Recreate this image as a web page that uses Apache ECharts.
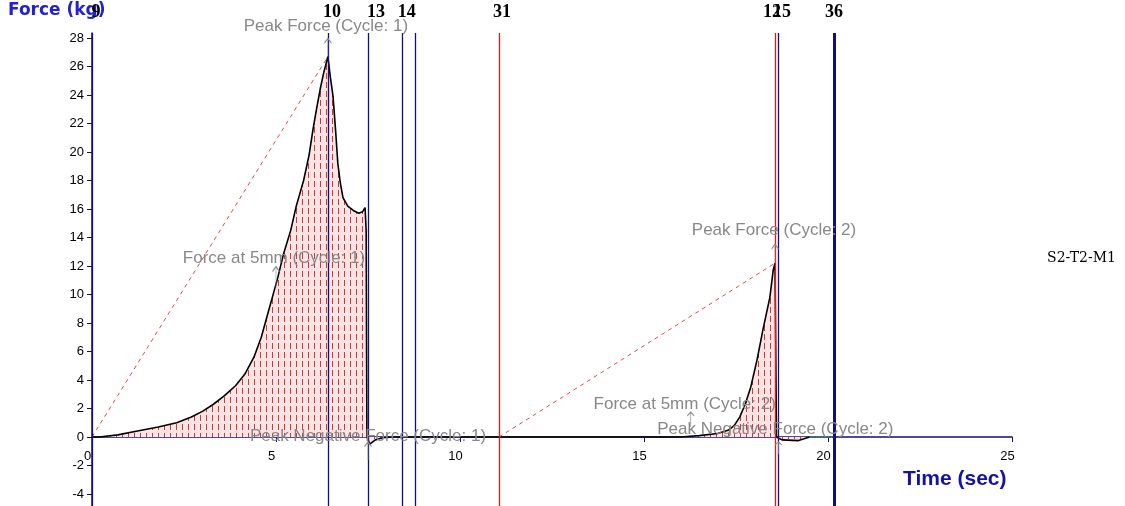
<!DOCTYPE html>
<html>
<head>
<meta charset="utf-8">
<script src="https://cdn.jsdelivr.net/npm/echarts@6/dist/echarts.min.js"></script>
<style>
  html, body { margin: 0; padding: 0; background: #fff; }
  #chart { width: 1125px; height: 506px; }
</style>
</head>
<body>
<div id="chart"></div>
<script>
// force trace [time (sec), force (kg)]
var forceTrace = [
  [0, 0], [0.2, 0], [0.7, 0.15], [1.2, 0.4], [1.8, 0.7], [2.3, 1.0], [2.7, 1.4], [3.0, 1.8],
  [3.3, 2.3], [3.6, 2.9], [3.9, 3.6], [4.15, 4.4], [4.4, 5.6], [4.6, 7.0], [4.75, 8.4],
  [4.9, 9.8], [5.05, 11.2], [5.2, 12.8], [5.4, 14.5], [5.55, 16.2], [5.75, 18.0], [5.9, 19.8],
  [6.0, 21.5], [6.1, 23.0], [6.2, 24.4], [6.3, 25.6], [6.41, 26.7], [6.48, 25.2], [6.55, 23.9],
  [6.62, 21.5], [6.68, 19.2], [6.75, 17.8], [6.82, 16.8], [6.95, 16.2], [7.1, 15.9], [7.25, 15.7],
  [7.35, 15.8], [7.42, 16.1], [7.45, 14.5], [7.47, 0], [7.55, -0.5], [7.7, -0.2], [7.9, -0.05],
  [8.2, 0], [11.06, 0], [16.0, 0], [16.5, 0.1], [17.0, 0.25], [17.3, 0.5], [17.45, 0.8],
  [17.6, 1.4], [17.75, 2.3], [17.9, 3.5], [18.07, 5.4], [18.23, 7.5], [18.42, 9.8],
  [18.51, 11.7], [18.56, 12.2], [18.6, 0], [18.75, -0.2], [19.2, -0.25], [19.5, 0]
];
// dashed lines from cycle start to peak
var chordCycle1 = [[0, 0], [6.41, 26.7]];
var chordCycle2 = [[11.06, 0], [18.56, 12.2]];
var greenTail = [[19.5, 0], [20.16, 0]];

// axis ticks
var forceTicks = [-4, -2, 0, 2, 4, 6, 8, 10, 12, 14, 16, 18, 20, 22, 24, 26, 28];
var timeTicks = [0, 5, 10, 15, 20, 25];

// vertical marker lines
var markerTimes  = [0, 6.41, 7.5, 8.42, 8.78, 11.06, 18.56, 18.64, 20.16];
var markerLabels = ['9', '10', '13', '14', '', '31', '12', '15', '36'];
var markerKinds  = ['n', 'n', 'n', 'n', 'n', 'r', 'r', 'n', 'thick'];

// annotations
var annoNames = ['Peak Force (Cycle: 1)', 'Force at 5mm (Cycle: 1)', 'Peak Negative Force (Cycle: 1)',
                 'Force at 5mm (Cycle: 2)', 'Peak Force (Cycle: 2)', 'Peak Negative Force (Cycle: 2)'];
var annoPoints = [[6.41, 26.7], [5.0, 10.5], [7.5, -0.35], [16.27, 0.7], [18.56, 12.2], [18.65, -0.35]];
var annoUp     = [true, true, false, true, true, false];

var NAVY = '#10107a';
var markerPad = {'9': 8, '10': 8, '13': 16, '14': 10, '12': -6, '15': 8, '36': 0, '31': 6};

// pink fill with short red dashes
var pat = document.createElement('canvas');
pat.width = 6; pat.height = 9;
var pc = pat.getContext('2d');
pc.fillStyle = '#fde4e4';
pc.fillRect(0, 0, 6, 9);
pc.fillStyle = '#c43c3c';
pc.fillRect(2, 1, 1, 6);

var chart = echarts.init(document.getElementById('chart'));

var arrowPath = 'path://M4,0L4,20M0,5L4,0L8,5';
var annoStyle = [
  {dx: -2, dy: 0, h: 18},
  {dx: -2, dy: 5, h: 21},
  {dx: 0, dy: 7, h: 18},
  {dx: -6, dy: 4, h: 15},
  {dx: -1, dy: -1, h: 19},
  {dx: -3, dy: -1, h: 12}
];

chart.setOption({
  animation: false,
  // y from -4.84 to 28.35 so the marker lines reach the picture edges
  grid: {left: 92, right: 113, top: 33, bottom: 0, outerBoundsMode: 'none'},
  legend: {
    right: 4, top: 246, icon: 'none', itemWidth: 0, itemGap: 0,
    data: ['S2-T2-M1'],
    textStyle: {fontFamily: 'DejaVu Serif', fontSize: 14, color: '#000'}
  },
  graphic: [
    {type: 'text', left: 8, top: 2, style: {text: 'Force (kg)', fill: '#2222d4', font: 'bold 17px "DejaVu Sans"'}},
    {type: 'text', left: 903, top: 469, style: {text: 'Time (sec)', fill: '#1212a6', font: 'bold 21px "Liberation Sans"'}}
  ],
  xAxis: {
    type: 'value', min: 0, max: 25,
    position: 'bottom', offset: -69,
    axisLine: {onZero: false, lineStyle: {color: NAVY, width: 1.5}},
    axisTick: {length: 5, lineStyle: {color: NAVY}, customValues: timeTicks},
    axisLabel: {show: true, hideOverlap: false, color: '#000', fontFamily: 'Liberation Sans', fontSize: 13, margin: 13,
                padding: [0, 9, 0, 0], customValues: timeTicks},
    splitLine: {show: false}
  },
  yAxis: {
    type: 'value', min: -4.84, max: 28.35,
    axisLine: {show: true, onZero: false, lineStyle: {color: NAVY, width: 1.5}},
    axisTick: {show: true, length: 5, lineStyle: {color: NAVY}, customValues: forceTicks},
    axisLabel: {color: '#000', fontFamily: 'Liberation Sans', fontSize: 13, margin: 8, customValues: forceTicks},
    splitLine: {show: false}
  },
  series: [
    {
      name: 'S2-T2-M1', type: 'line', data: forceTrace, showSymbol: false,
      lineStyle: {color: '#000', width: 1.6}, itemStyle: {color: '#000'},
      areaStyle: {color: {image: pat, repeat: 'repeat'}, opacity: 1, origin: 0},
      z: 3,
      markLine: {
        silent: true, symbol: ['none', 'none'], animation: false,
        label: {position: 'end', distance: 12, color: '#000', fontFamily: 'Liberation Serif', fontWeight: 'bold', fontSize: 18},
        data: markerTimes.map(function (t, i) {
          var k = markerKinds[i];
          var lab = markerLabels[i];
          var p = markerPad[lab] || 0;
          return {
            xAxis: t,
            lineStyle: {type: 'solid', color: k === 'r' ? '#e01818' : NAVY, width: k === 'thick' ? 3 : 1.3},
            label: lab ? {formatter: lab, padding: p >= 0 ? [0, 0, 0, p] : [0, -p, 0, 0]} : {show: false}
          };
        })
      },
      markPoint: {
        silent: true, animation: false,
        data: annoPoints.map(function (pt, i) {
          var s = annoStyle[i];
          return {
            coord: pt,
            symbol: arrowPath,
            symbolSize: [7, s.h],
            symbolOffset: [0, annoUp[i] ? '-50%' : '50%'],
            itemStyle: {color: 'none', borderColor: '#8c8c8c', borderWidth: 1},
            label: {
              show: true, formatter: annoNames[i], position: 'top',
              distance: 0, offset: [s.dx, s.dy],
              color: '#888', fontFamily: 'Liberation Sans', fontSize: 17
            }
          };
        })
      }
    },
    {
      type: 'line', data: chordCycle1, showSymbol: false, silent: true,
      lineStyle: {color: '#e04848', width: 1, type: [4, 4]}, z: 4
    },
    {
      type: 'line', data: chordCycle2, showSymbol: false, silent: true,
      lineStyle: {color: '#e04848', width: 1, type: [4, 4]}, z: 4
    },
    {
      type: 'line', data: greenTail, showSymbol: false, silent: true,
      lineStyle: {color: '#3c9c3c', width: 1.5, type: 'dotted'}, z: 4
    }
  ]
});
</script>
</body>
</html>
